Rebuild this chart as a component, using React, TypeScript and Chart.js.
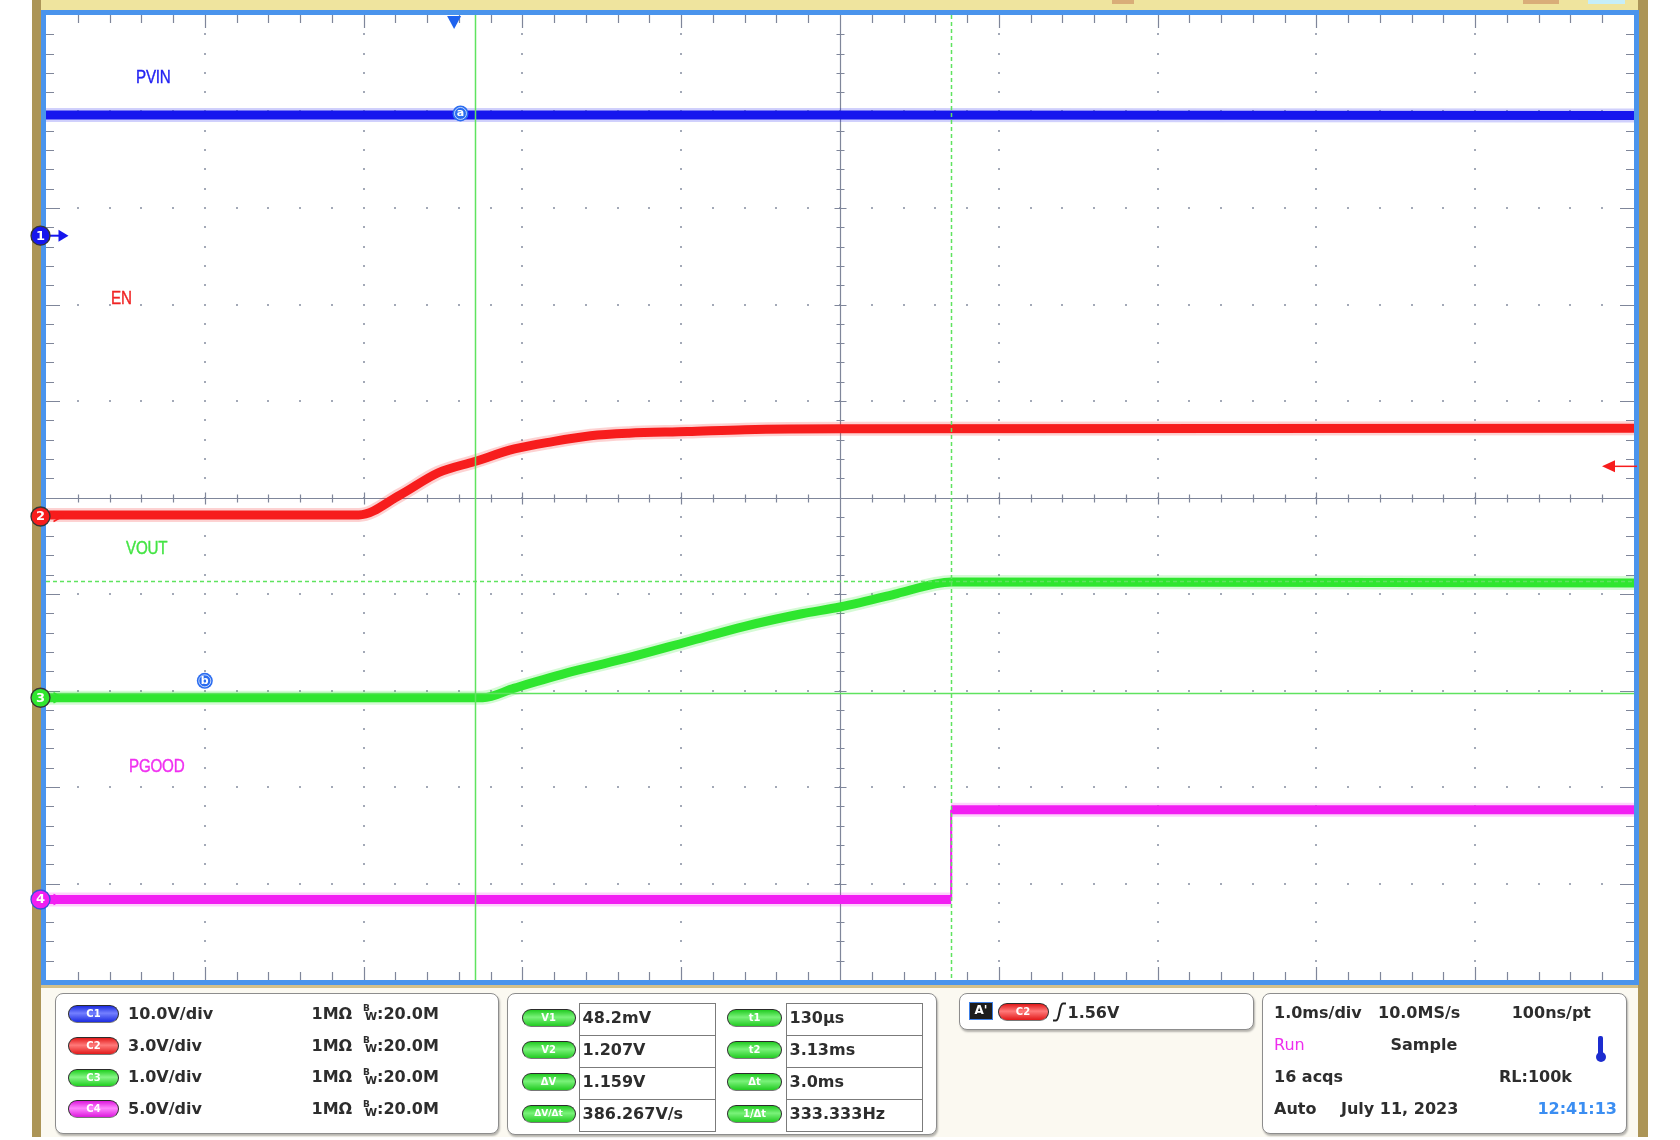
import React, { useEffect, useRef } from "react";
import { Chart, registerables } from "chart.js";
Chart.register(...registerables);

// ---------- Data ----------
// horizontal: 1.0 ms/div, 10 divisions, times in ms relative to trigger
const X_MIN = -2.57;
const X_DIVS = 10;
const Y_DIVS = 10;

const channelIds = ["C1", "C2", "C3", "C4"];
const channelNames = ["PVIN", "EN", "VOUT", "PGOOD"];
const voltsPerDiv = [10, 3, 1, 5];
const groundDiv = [2.713, -0.197, -2.075, -4.166];
const channelColors = ["#1616ee", "#f71d1d", "#2fe62f", "#f21ef2"];
const scaleLabels = ["10.0V/div", "3.0V/div", "1.0V/div", "5.0V/div"];

const pvinTime = [-2.57, 2.43, 7.43];
const pvinVolts = [12.5, 12.5, 12.45];

const enTime = [-2.57, -0.6, -0.34, -0.1, 0.13, 0.38, 0.62, 0.86, 1.1, 1.47, 1.83, 2.43, 7.43];
const enVolts = [0.05, 0.05, 0.67, 1.36, 1.71, 2.1, 2.33, 2.51, 2.59, 2.64, 2.7, 2.73, 2.74];

const voutTime = [-2.57, 0.18, 0.38, 0.74, 1.11, 1.47, 1.83, 2.19, 2.43, 2.79, 3.03, 3.13, 7.43];
const voutVolts = [0.0, 0.0, 0.1, 0.27, 0.42, 0.58, 0.74, 0.87, 0.94, 1.08, 1.18, 1.2, 1.19];

const pgoodTime = [-2.57, 3.13, 3.13, 7.43];
const pgoodVolts = [0.0, 0.0, 4.65, 4.65];

const waveTimes = [pvinTime, enTime, voutTime, pgoodTime];
const waveVolts = [pvinVolts, enVolts, voutVolts, pgoodVolts];
const waveSmooth = [false, true, true, false];

// cursors (on C3)
const cursorTimes = [0.13, 3.13];
const cursorVolts = [0.0482, 1.207];
const cursorChannel = 2;

// trigger
const triggerTime = 0;
const triggerChannel = 1;
const triggerLevel = 1.56;

// reference markers
const refLabels = ["a", "b"];
const refTimes = [0.04, -1.57];
const refDivs = [3.98, -1.9];

// panel texts
const measLeftLabels = ["V1", "V2", "ΔV", "ΔV/Δt"];
const measLeftValues = ["48.2mV", "1.207V", "1.159V", "386.267V/s"];
const measRightLabels = ["t1", "t2", "Δt", "1/Δt"];
const measRightValues = ["130µs", "3.13ms", "3.0ms", "333.333Hz"];

// ---------- helpers ----------
const FONT = "'DejaVu Sans', 'Liberation Sans', sans-serif";
const pillGrad: Record<string, [string, string]> = {
  C1: ["#7480ff", "#1b2be0"],
  C2: ["#ff7a7a", "#e21a1a"],
  C3: ["#86f586", "#1fcf1f"],
  C4: ["#ff86ff", "#dc18dc"],
  M: ["#7af27a", "#22cb22"],
};

const scopePlugin = {
  id: "scope",
  beforeDraw(chart: any) {
    const { ctx, chartArea: ca, width, height } = chart;
    ctx.save();
    ctx.fillStyle = "#ffffff";
    ctx.fillRect(0, 0, width, height);
    ctx.fillStyle = "#ac9557";
    ctx.fillRect(32, 0, 9, 1137);
    ctx.fillRect(1638, 0, 10, 1137);
    ctx.fillStyle = "#efe49e";
    ctx.fillRect(41, 0, 1597, 10);
    ctx.fillStyle = "#d9ad78";
    ctx.fillRect(1112, 0, 22, 4);
    ctx.fillRect(1523, 0, 36, 4);
    ctx.fillStyle = "#c6eef9";
    ctx.fillRect(1588, 0, 37, 4);
    ctx.fillStyle = "#fbf9f1";
    ctx.fillRect(41, 985, 1597, 152);
    ctx.fillStyle = "#d3c08a";
    ctx.fillRect(41, 985, 1597, 3);
    ctx.fillStyle = "#ffffff";
    ctx.fillRect(ca.left, ca.top, ca.right - ca.left, ca.bottom - ca.top);
    ctx.strokeStyle = "#4a94ec";
    ctx.lineWidth = 5;
    ctx.strokeRect(ca.left - 2.5, ca.top - 2.5, ca.right - ca.left + 5, ca.bottom - ca.top + 5);
    ctx.restore();
  },
  beforeDatasetsDraw(chart: any) {
    const { ctx, chartArea: ca } = chart;
    const xs = chart.scales.x;
    const ys = chart.scales.y;
    const yMin = -Y_DIVS / 2;
    ctx.save();
    ctx.fillStyle = "#a3a9b7";
    for (let k = 1; k < X_DIVS; k++) {
      if (k === X_DIVS / 2) continue;
      const px = Math.round(xs.getPixelForValue(X_MIN + k));
      for (let j = 1; j < Y_DIVS * 5; j++) {
        const py = Math.round(ys.getPixelForValue(yMin + j * 0.2));
        ctx.fillRect(px - 1, py - 1, 2, 2);
      }
    }
    for (let k = 1; k < Y_DIVS; k++) {
      if (k === Y_DIVS / 2) continue;
      const py = Math.round(ys.getPixelForValue(yMin + k));
      for (let j = 1; j < X_DIVS * 5; j++) {
        const px = Math.round(xs.getPixelForValue(X_MIN + j * 0.2));
        ctx.fillRect(px - 1, py - 1, 2, 2);
      }
    }
    ctx.strokeStyle = "#7f869a";
    ctx.lineWidth = 1.2;
    const cx = Math.round(xs.getPixelForValue(X_MIN + X_DIVS / 2)) + 0.5;
    const cy = Math.round(ys.getPixelForValue(0)) + 0.5;
    ctx.beginPath();
    ctx.moveTo(ca.left, cy);
    ctx.lineTo(ca.right, cy);
    ctx.moveTo(cx, ca.top);
    ctx.lineTo(cx, ca.bottom);
    for (let j = 1; j < X_DIVS * 5; j++) {
      const px = Math.round(xs.getPixelForValue(X_MIN + j * 0.2)) + 0.5;
      const len = j % 5 === 0 ? 6 : 4;
      ctx.moveTo(px, cy - len);
      ctx.lineTo(px, cy + len);
      const el = j % 5 === 0 ? 13 : 8;
      ctx.moveTo(px, ca.top);
      ctx.lineTo(px, ca.top + el);
      ctx.moveTo(px, ca.bottom);
      ctx.lineTo(px, ca.bottom - el);
    }
    for (let j = 1; j < Y_DIVS * 5; j++) {
      const py = Math.round(ys.getPixelForValue(yMin + j * 0.2)) + 0.5;
      const len = j % 5 === 0 ? 6 : 4;
      ctx.moveTo(cx - len, py);
      ctx.lineTo(cx + len, py);
      const el = j % 5 === 0 ? 14 : 8;
      ctx.moveTo(ca.left, py);
      ctx.lineTo(ca.left + el, py);
      ctx.moveTo(ca.right, py);
      ctx.lineTo(ca.right - el, py);
    }
    ctx.stroke();
    ctx.restore();
  },
  afterDatasetsDraw(chart: any) {
    const { ctx, chartArea: ca } = chart;
    const xs = chart.scales.x;
    const ys = chart.scales.y;
    ctx.save();
    ctx.strokeStyle = "#5fe35f";
    ctx.lineWidth = 1.5;
    cursorTimes.forEach((t, i) => {
      const px = Math.round(xs.getPixelForValue(t)) + 0.5;
      ctx.setLineDash(i === 0 ? [] : [4, 3]);
      ctx.beginPath();
      ctx.moveTo(px, ca.top);
      ctx.lineTo(px, ca.bottom);
      ctx.stroke();
    });
    cursorVolts.forEach((v, i) => {
      const py =
        Math.round(ys.getPixelForValue(v / voltsPerDiv[cursorChannel] + groundDiv[cursorChannel])) + 0.5;
      ctx.setLineDash(i === 0 ? [] : [4, 3]);
      ctx.beginPath();
      ctx.moveTo(ca.left, py);
      ctx.lineTo(ca.right, py);
      ctx.stroke();
    });
    ctx.setLineDash([]);

    const tx = xs.getPixelForValue(triggerTime);
    ctx.fillStyle = "#1f63ee";
    ctx.beginPath();
    ctx.moveTo(tx - 7, ca.top + 1);
    ctx.lineTo(tx + 7, ca.top + 1);
    ctx.lineTo(tx, ca.top + 14);
    ctx.closePath();
    ctx.fill();

    const ty = ys.getPixelForValue(triggerLevel / voltsPerDiv[triggerChannel] + groundDiv[triggerChannel]);
    ctx.strokeStyle = channelColors[triggerChannel];
    ctx.fillStyle = channelColors[triggerChannel];
    ctx.lineWidth = 1.5;
    ctx.beginPath();
    ctx.moveTo(ca.right - 20, ty);
    ctx.lineTo(ca.right + 3, ty);
    ctx.stroke();
    ctx.beginPath();
    ctx.moveTo(ca.right - 32, ty);
    ctx.lineTo(ca.right - 19, ty - 6);
    ctx.lineTo(ca.right - 19, ty + 6);
    ctx.closePath();
    ctx.fill();

    refLabels.forEach((lab, i) => {
      const px = xs.getPixelForValue(refTimes[i]);
      const py = ys.getPixelForValue(refDivs[i]);
      ctx.beginPath();
      ctx.arc(px, py, 8, 0, Math.PI * 2);
      ctx.fillStyle = "#2a6cf0";
      ctx.fill();
      ctx.beginPath();
      ctx.arc(px, py, 6, 0, Math.PI * 2);
      ctx.strokeStyle = "rgba(255,255,255,0.7)";
      ctx.lineWidth = 1;
      ctx.stroke();
      ctx.fillStyle = "#ffffff";
      ctx.font = "bold 11px " + FONT;
      ctx.textAlign = "center";
      ctx.textBaseline = "middle";
      ctx.fillText(lab, px, py);
    });

    channelIds.forEach((id, i) => {
      const py = ys.getPixelForValue(groundDiv[i]);
      const mx = ca.left - 5.5;
      ctx.fillStyle = channelColors[i];
      ctx.strokeStyle = channelColors[i];
      if (i === 0) {
        ctx.lineWidth = 2;
        ctx.beginPath();
        ctx.moveTo(mx + 8, py);
        ctx.lineTo(mx + 20, py);
        ctx.stroke();
        ctx.beginPath();
        ctx.moveTo(mx + 18, py - 6);
        ctx.lineTo(mx + 28, py);
        ctx.lineTo(mx + 18, py + 6);
        ctx.closePath();
        ctx.fill();
      } else {
        ctx.lineWidth = 1.5;
        ctx.beginPath();
        ctx.moveTo(mx + 13, py - 5);
        ctx.lineTo(mx + 22, py);
        ctx.lineTo(mx + 13, py + 5);
        ctx.stroke();
      }
      ctx.beginPath();
      ctx.arc(mx, py, 9.5, 0, Math.PI * 2);
      ctx.fillStyle = channelColors[i];
      ctx.fill();
      ctx.lineWidth = 1.3;
      ctx.strokeStyle = i === 3 ? "#3a4fd8" : "#353535";
      ctx.stroke();
      ctx.fillStyle = "#ffffff";
      ctx.font = "bold 13px " + FONT;
      ctx.textAlign = "center";
      ctx.textBaseline = "middle";
      ctx.fillText(id.slice(1), mx, py + 0.5);
    });
    ctx.restore();
  },
};

function hexA(hex: string, a: number) {
  const n = parseInt(hex.slice(1), 16);
  return `rgba(${(n >> 16) & 255},${(n >> 8) & 255},${n & 255},${a})`;
}

// ---------- HTML pieces ----------
function Txt(props: {
  x: number;
  y: number;
  children: any;
  color?: string;
  size?: number;
  weight?: string;
  right?: boolean;
  family?: string;
  style?: React.CSSProperties;
}) {
  const { x, y, children, color = "#2d2d2d", size = 16, weight = "bold", right = false, family = FONT, style = {} } =
    props;
  const s: React.CSSProperties = {
    position: "absolute",
    top: y - size * 0.48,
    fontSize: size,
    lineHeight: `${size}px`,
    fontFamily: family,
    fontWeight: weight as any,
    color,
    whiteSpace: "nowrap",
    ...style,
  };
  if (right) s.right = 1680 - x;
  else s.left = x;
  return <div style={s}>{children}</div>;
}

function Panel({ l, t, r, b }: { l: number; t: number; r: number; b: number }) {
  return (
    <div
      style={{
        position: "absolute",
        left: l,
        top: t,
        width: r - l,
        height: b - t,
        boxSizing: "border-box",
        border: "1.5px solid #8d8d8d",
        borderRadius: 8,
        background: "#ffffff",
        boxShadow: "1px 2px 2px rgba(0,0,0,0.28)",
      }}
    />
  );
}

function Pill({ x, y, w, kind, text, fs = 10 }: { x: number; y: number; w: number; kind: string; text: string; fs?: number }) {
  const [a, b] = pillGrad[kind];
  return (
    <div
      style={{
        position: "absolute",
        left: x,
        top: y - 9,
        width: w,
        height: 18,
        boxSizing: "border-box",
        borderRadius: 9,
        border: "1.5px solid #2c2c2c",
        borderBottomColor: "#777",
        background: `linear-gradient(to bottom, ${b} 0%, ${a} 45%, ${b} 100%)`,
        color: "#ffffff",
        fontFamily: FONT,
        fontWeight: "bold",
        fontSize: fs,
        lineHeight: "15px",
        textAlign: "center",
      }}
    >
      {text}
    </div>
  );
}

function Box({ l, t, w, h }: { l: number; t: number; w: number; h: number }) {
  return (
    <div
      style={{
        position: "absolute",
        left: l,
        top: t,
        width: w,
        height: h,
        boxSizing: "border-box",
        border: "1.5px solid #7b7b7b",
        background: "#ffffff",
      }}
    />
  );
}

const labelPos = [
  { x: 136, y: 76 },
  { x: 111, y: 297 },
  { x: 126, y: 547.5 },
  { x: 128.5, y: 765 },
];
const labelColors = ["#2424f2", "#f02424", "#44e444", "#f030f0"];

export default function App() {
  const canvasRef = useRef<HTMLCanvasElement | null>(null);

  useEffect(() => {
    const canvas = canvasRef.current;
    if (!canvas) return;
    const datasets: any[] = [];
    channelIds.forEach((id, i) => {
      const pts = waveTimes[i].map((t, k) => ({ x: t, y: waveVolts[i][k] / voltsPerDiv[i] + groundDiv[i] }));
      const seg = {
        borderWidth: (c: any) => (c.p0.parsed.x === c.p1.parsed.x ? 2 : undefined),
      };
      const common = {
        data: pts,
        pointRadius: 0,
        tension: waveSmooth[i] ? 0.4 : 0,
        cubicInterpolationMode: waveSmooth[i] ? "monotone" : "default",
        segment: seg,
        borderJoinStyle: "round",
      };
      datasets.push({
        ...common,
        label: channelNames[i] + " halo",
        borderColor: hexA(channelColors[i], 0.2),
        borderWidth: 14,
        order: 2,
      });
      datasets.push({
        ...common,
        label: channelNames[i],
        borderColor: channelColors[i],
        borderWidth: 9,
        order: 1,
      });
    });
    const chart = new Chart(canvas, {
      type: "line",
      data: { datasets },
      options: {
        responsive: false,
        animation: false,
        devicePixelRatio: 1,
        layout: { padding: { left: 46, top: 15, right: 46, bottom: 160 } },
        scales: {
          x: { type: "linear", min: X_MIN, max: X_MIN + X_DIVS, display: false },
          y: { type: "linear", min: -Y_DIVS / 2, max: Y_DIVS / 2, display: false },
        },
        plugins: { legend: { display: false }, tooltip: { enabled: false } },
        events: [],
      },
      plugins: [scopePlugin],
    } as any);
    return () => chart.destroy();
  }, []);

  const row1 = [1013.5, 1045.3, 1077.1, 1108.9];
  const row2 = [1018, 1050, 1082, 1114];

  return (
    <div
      style={{
        position: "absolute",
        left: 0,
        top: 0,
        width: 1680,
        height: 1140,
        overflow: "hidden",
        background: "#ffffff",
      }}
    >
      <canvas ref={canvasRef} width={1680} height={1140} style={{ position: "absolute", left: 0, top: 0, width: 1680, height: 1140 }} />

      {channelNames.map((n, i) => (
        <Txt
          key={n}
          x={labelPos[i].x}
          y={labelPos[i].y}
          color={labelColors[i]}
          size={19}
          weight="normal"
          family="'Liberation Sans', Arial, sans-serif"
          style={{
            transform: "scaleX(0.8)",
            transformOrigin: "left center",
            letterSpacing: -0.3,
            WebkitTextStroke: `0.4px ${labelColors[i]}`,
          }}
        >
          {n}
        </Txt>
      ))}

      <Panel l={55} t={993} r={499} b={1134} />
      {channelIds.map((id, i) => (
        <React.Fragment key={id}>
          <Pill x={68} y={row1[i] + 0.5} w={51} kind={id} text={id} />
          <Txt x={128} y={row1[i]}>{scaleLabels[i]}</Txt>
          <Txt x={311.5} y={row1[i]}>1MΩ</Txt>
          <Txt x={363} y={row1[i] - 5} size={9}>B</Txt>
          <Txt x={365} y={row1[i] + 3} size={11}>W</Txt>
          <Txt x={377} y={row1[i]}>:20.0M</Txt>
        </React.Fragment>
      ))}

      <Panel l={507} t={993} r={937} b={1135} />
      {measLeftLabels.map((lab, i) => (
        <React.Fragment key={lab}>
          <Box l={579} t={1002.5 + 32 * i} w={137} h={33.5} />
          <Box l={786} t={1002.5 + 32 * i} w={137} h={33.5} />
        </React.Fragment>
      ))}
      {measLeftLabels.map((lab, i) => (
        <React.Fragment key={lab + "t"}>
          <Pill x={521.5} y={row2[i]} w={54} kind="M" text={lab} fs={i === 3 ? 9 : 10} />
          <Txt x={582.5} y={row2[i]}>{measLeftValues[i]}</Txt>
          <Pill x={727} y={row2[i]} w={55} kind="M" text={measRightLabels[i]} />
          <Txt x={789.5} y={row2[i]}>{measRightValues[i]}</Txt>
        </React.Fragment>
      ))}

      <Panel l={959} t={993} r={1254} b={1030} />
      <div
        style={{
          position: "absolute",
          left: 969,
          top: 1002,
          width: 24,
          height: 18,
          boxSizing: "border-box",
          background: "#1d1d1d",
          border: "1.5px solid #3d7fe6",
          color: "#fff",
          fontFamily: FONT,
          fontWeight: "bold",
          fontSize: 12,
          lineHeight: "15px",
          textAlign: "center",
        }}
      >
        A'
      </div>
      <Pill x={997.5} y={1011.5} w={51} kind="C2" text="C2" />
      <svg style={{ position: "absolute", left: 1052, top: 1002 }} width={15} height={20}>
        <path d="M1 18.5 L4 18.5 C8 18.5 7 1.5 11 1.5 L14 1.5" stroke="#222" strokeWidth={2} fill="none" />
      </svg>
      <Txt x={1067.5} y={1012.5}>1.56V</Txt>

      <Panel l={1262} t={993} r={1627} b={1134} />
      <Txt x={1274} y={1012.5}>1.0ms/div</Txt>
      <Txt x={1378} y={1012.5}>10.0MS/s</Txt>
      <Txt x={1591} y={1012.5} right>100ns/pt</Txt>
      <Txt x={1274} y={1044.6} color="#ee2eee" weight="normal">Run</Txt>
      <Txt x={1390.5} y={1044.6}>Sample</Txt>
      <div style={{ position: "absolute", left: 1598, top: 1036, width: 5, height: 20, background: "#1c2ccf", borderRadius: 2 }} />
      <div style={{ position: "absolute", left: 1595.5, top: 1052, width: 10, height: 10, background: "#1c2ccf", borderRadius: 5 }} />
      <Txt x={1274} y={1076.8}>16 acqs</Txt>
      <Txt x={1572} y={1076.8} right>RL:100k</Txt>
      <Txt x={1274} y={1109}>Auto</Txt>
      <Txt x={1341} y={1109}>July 11, 2023</Txt>
      <Txt x={1617} y={1109} right color="#3b8ef2">12:41:13</Txt>
    </div>
  );
}
